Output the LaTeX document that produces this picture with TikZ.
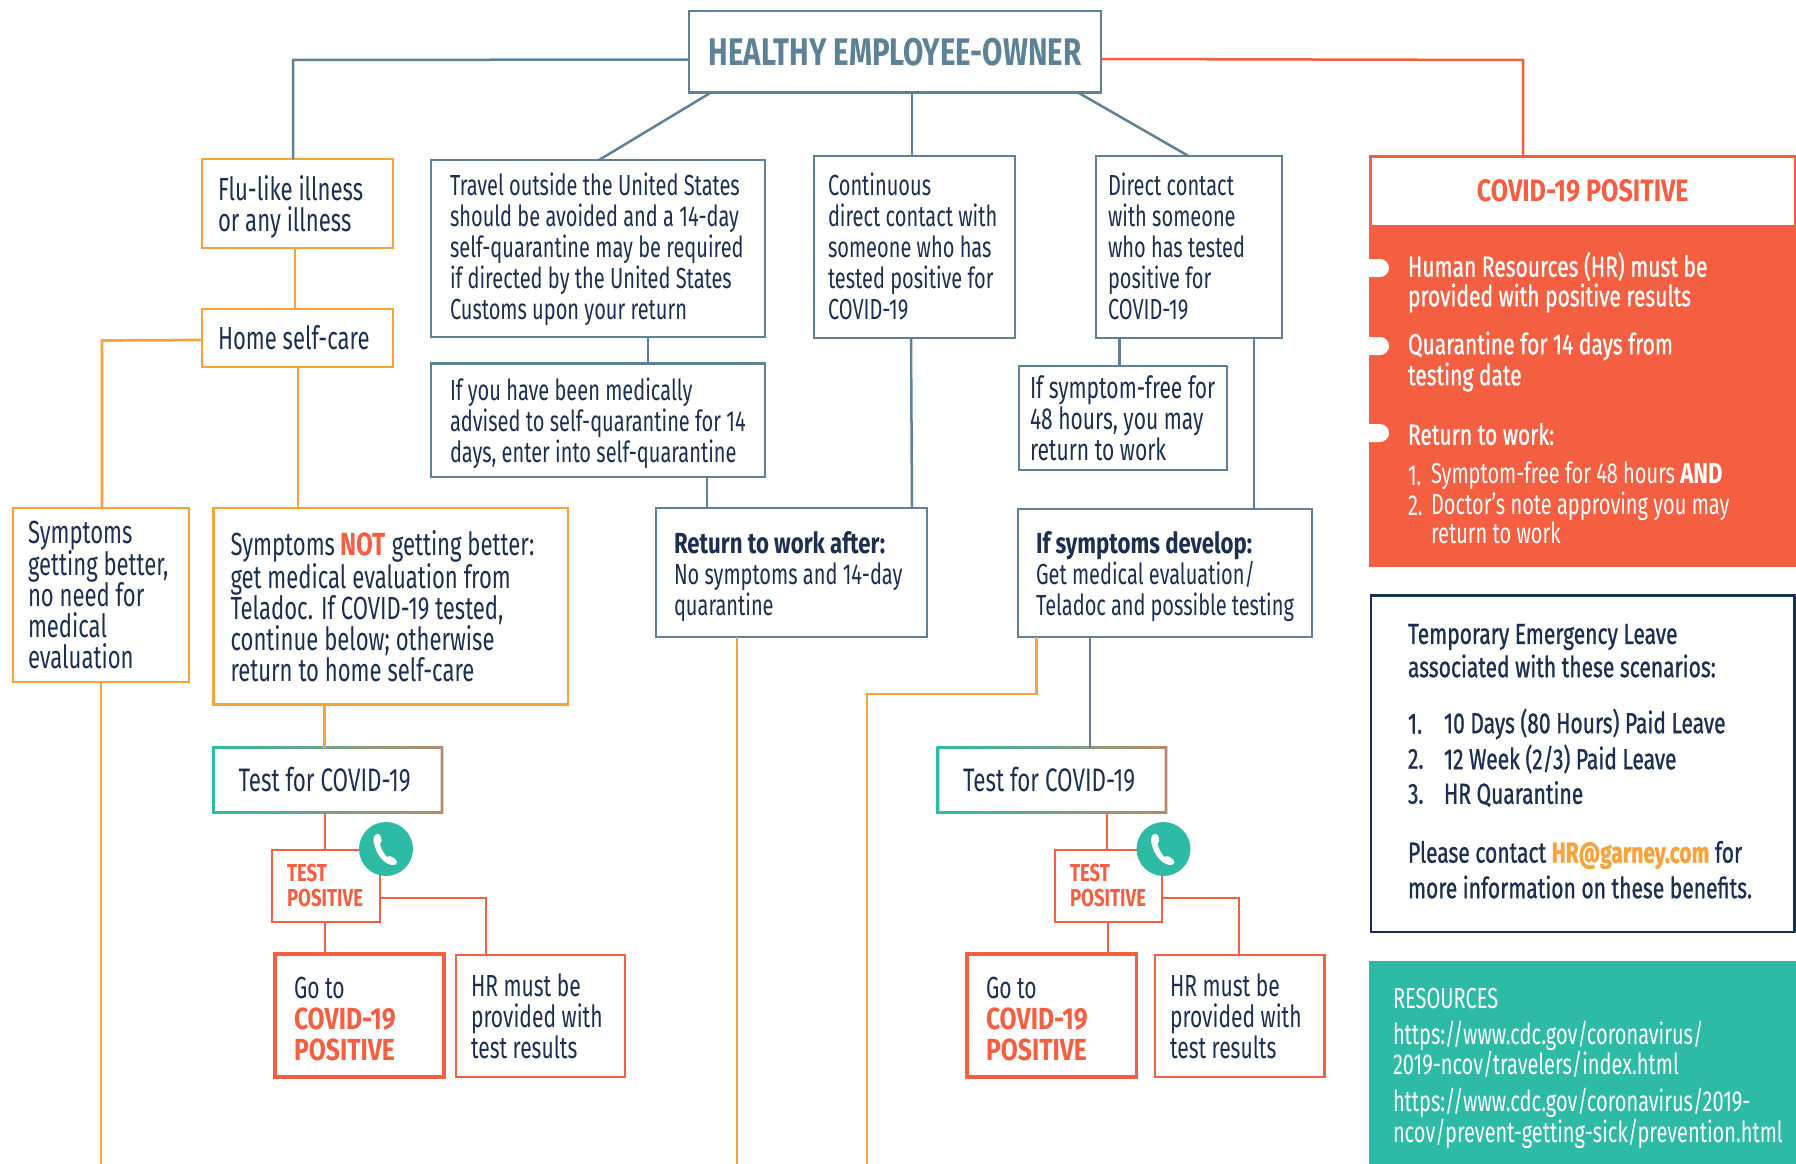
\documentclass[tikz,border=0pt]{standalone}
\usepackage{fontspec}
\setmainfont[UprightFeatures={FakeStretch=0.69},BoldFeatures={FakeStretch=0.765}]{Fira Sans}
\newfontfamily\medf[FakeStretch=0.725,FakeBold=0.9]{Fira Sans}
\newfontfamily\capf[UprightFeatures={FakeStretch=0.81},BoldFeatures={FakeStretch=0.81}]{Fira Sans}
\newfontfamily\capg[UprightFeatures={FakeStretch=0.76},BoldFeatures={FakeStretch=0.76}]{Fira Sans}
\definecolor{navy}{HTML}{1B2F50}
\definecolor{slate}{HTML}{5D8296}
\definecolor{orng}{HTML}{F9A23A}
\definecolor{redd}{HTML}{F45E41}
\definecolor{teall}{HTML}{2EBBA6}
\definecolor{brwn}{HTML}{B58A68}
\newcommand\hl[1]{{\capg\bfseries\color{redd}#1}}
\newcommand\hlw[1]{{\capf\bfseries\color{redd}#1}}
\newcommand\dn[1]{\rule{0pt}{\dimexpr 22pt+#1pt\relax}}
\newcommand\bx[8]{%
  \pgfmathsetmacro\bw{#5-#3}\pgfmathsetmacro\bh{#6-#4}%
  \pgfmathsetmacro\bcx{(#5+#3)/2}\pgfmathsetmacro\bcy{(#6+#4)/2}%
  \pgfmathsetmacro\btw{\bw-2*#7}%
  \node[#1,minimum width=\bw pt,minimum height=\bh pt,text width=\btw pt,inner xsep=#7 pt,inner ysep=0pt] (#2) at (\bcx,\bcy) {#8};}
\tikzset{
  x=1pt,y=-1pt,
  every node/.style={outer sep=0pt,align=flush left,text=navy,font=\fontsize{29}{31}\selectfont},
  bigf/.style={font=\fontsize{32}{31}\selectfont},
  midf/.style={font=\fontsize{30.5}{31}\selectfont},
  tpf/.style={font=\fontsize{24.5}{25}\selectfont},
  sbox/.style={draw=slate,line width=2.7pt},
  obox/.style={draw=orng,line width=2.9pt,bigf},
  rbox/.style={draw=redd,line width=2.7pt,midf},
  rthick/.style={draw=redd,line width=3.4pt,midf},
  tbox/.style={font=\fontsize{32.5}{31}\selectfont},
  sl/.style={draw=slate,line width=2.5pt},
  ol/.style={draw=orng,line width=2.7pt},
  rl/.style={draw=redd,line width=2.5pt},
  txt/.style={anchor=west,inner sep=0pt},
  wtxt/.style={txt,text=white,font=\fontsize{29}{31}\selectfont\medf},
  ntxt/.style={txt,text=navy,font=\fontsize{29}{31}\selectfont\medf},
  phone/.style={fill=teall,circle,minimum size=54pt,inner sep=0pt},
  handset/.pic={\fill[white] (-11,-14) .. controls (-8,-16) and (-6,-15) .. (-5,-12) .. controls (-4,-9) and (-4,-7) .. (-6,-5) .. controls (-5,0) and (-2,5) .. (1,8) .. controls (4,6) and (7,8) .. (10,11) .. controls (12,14) and (10,16) .. (7,16) .. controls (0,16) and (-8,8) .. (-11,-2) .. controls (-13,-7) and (-13,-12) .. (-11,-14) -- cycle;},
}
\newcommand\shbox[1]{\shade[left color=teall,right color=brwn,even odd rule] ([shift={(-1.4pt,-1.4pt)}]#1.south west) rectangle ([shift={(1.4pt,1.4pt)}]#1.north east) ([shift={(1.4pt,1.4pt)}]#1.south west) rectangle ([shift={(-1.4pt,-1.4pt)}]#1.north east);}
\begin{document}
\begin{tikzpicture}
\useasboundingbox (0,0) rectangle (1796,1164);
% top
\bx{sbox,align=flush center,font=\fontsize{38.5}{42}\selectfont\bfseries}{top}{689}{11}{1101}{92.5}{0}{\textcolor{slate}{HEALTHY EMPLOYEE-OWNER}}
% orange column
\bx{obox}{flu}{202}{159}{393}{248}{16}{\dn{9}Flu-like illness\\or any illness}
\bx{obox}{home}{202}{309}{393}{367}{16}{Home self-care}
\bx{obox}{better}{13}{508}{189}{682}{15}{Symptoms\\getting better,\\no need for\\medical\\evaluation}
\bx{obox}{notb}{213.5}{508}{568}{704.5}{17}{Symptoms \hl{NOT} getting better:\\get medical evaluation from\\Teladoc. If COVID-19 tested,\\continue below; otherwise\\return to home self-care}
% slate boxes
\bx{sbox}{travel}{431}{160}{765}{337}{19}{\dn{2}Travel outside the United States\\should be avoided and a 14-day\\self-quarantine may be required\\if directed by the United States\\Customs upon your return}
\bx{sbox}{medic}{431}{363.5}{765}{477}{19}{\dn{6}If you have been medically\\advised to self-quarantine for 14\\days, enter into self-quarantine}
\bx{sbox}{retn}{656}{508}{927}{637}{18}{\dn{9}\textbf{Return to work after:}\\No symptoms and 14-day\\quarantine}
\bx{sbox}{cont}{814}{156}{1015}{338}{14}{Continuous\\direct contact with\\someone who has\\tested positive for\\COVID-19}
\bx{sbox}{direct}{1096}{156}{1282}{338}{12}{Direct contact\\with someone\\who has tested\\positive for\\COVID-19}
\bx{sbox,midf}{free}{1019}{366}{1227}{470}{11}{\dn{2}If symptom-free for\\48 hours, you may\\return to work}
\bx{sbox}{devel}{1018}{509}{1312}{637}{18}{\dn{8}\textbf{If symptoms develop:}\\Get medical evaluation/\\Teladoc and possible testing}
% test boxes
\bx{tbox}{testa}{213.5}{747.5}{442}{812.5}{25}{Test for COVID-19}
\bx{tbox}{testb}{938}{747.5}{1166}{812.5}{25}{Test for COVID-19}
\shbox{testa}
\shbox{testb}
\bx{rbox,tpf}{posa}{272}{850}{380}{922}{15}{\hl{TEST}\\\hl{POSITIVE}}
\bx{rbox,tpf}{posb}{1055}{850}{1162}{922}{15}{\hl{TEST}\\\hl{POSITIVE}}
\bx{rthick}{goa}{275}{954}{444}{1077}{19}{\dn{6}Go to\\\hlw{COVID-19}\\\hlw{POSITIVE}}
\bx{rbox}{hra}{456}{955}{625}{1077}{15}{HR must be\\provided with\\test results}
\bx{rthick}{gob}{967}{954}{1136.5}{1077}{19}{\dn{6}Go to\\\hlw{COVID-19}\\\hlw{POSITIVE}}
\bx{rbox}{hrb}{1155}{955}{1324.5}{1077}{15}{HR must be\\provided with\\test results}
% connectors
\draw[sl] (top.west |- 0,59.5) -- (293,60) -- (flu.north -| 293,0);
\draw[sl] (top.south -| 711,0) -- (travel.north -| 599,0);
\draw[sl] (top.south -| 912,0) -- (cont.north -| 912,0);
\draw[sl] (top.south -| 1078,0) -- (direct.north -| 1188.5,0);
\draw[rl] (top.east |- 0,59) -- (1523,60) -- (1523,156);
\draw[ol] (flu.south -| 295,0) -- (home.north -| 295,0);
\draw[ol] (home.west |- 0,340) -- (102,340.5) -- (better.north -| 102,0);
\draw[ol] (home.south -| 298,0) -- (notb.north -| 298,0);
\draw[ol] (better.south -| 101,0) -- (101,1164);
\draw[ol] (notb.south -| 324.5,0) -- (testa.north -| 324.5,0);
\draw[sl] (travel.south -| 648,0) -- (medic.north -| 648,0);
\draw[sl] (medic.south -| 707,0) -- (retn.north -| 707,0);
\draw[sl] (cont.south -| 911,0) -- (retn.north -| 912,0);
\draw[sl] (direct.south -| 1119.5,0) -- (free.north -| 1119.5,0);
\draw[sl] (direct.south -| 1254,0) -- (devel.north -| 1254,0);
\draw[sl] (devel.south -| 1090,0) -- (testb.north -| 1090,0);
\draw[ol] (retn.south -| 737,0) -- (737,1164);
\draw[ol] (devel.south -| 1036.5,0) -- (1036.5,694) -- (867,694) -- (867,1164);
\draw[rl] (testa.south -| 325,0) -- (posa.north -| 325,0);
\draw[rl] (posa.east |- 0,898) -- (486,898) -- (hra.north -| 486,0);
\draw[rl] (posa.south -| 325,0) -- (goa.north -| 325,0);
\draw[rl] (testb.south -| 1107,0) -- (posb.north -| 1107,0);
\draw[rl] (posb.east |- 0,898) -- (1239,898) -- (hrb.north -| 1239,0);
\draw[rl] (posb.south -| 1108,0) -- (gob.north -| 1108,0);
% phones
\node[phone] (pha) at (386,849) {};
\node[phone] (phb) at (1163.5,849) {};
\pic at (pha) {handset};
\pic at (phb) {handset};
% COVID panel
\bx{rbox,align=flush center,font=\fontsize{31}{33}\selectfont}{covid}{1370.5}{156.5}{1795}{226}{0}{\hlw{COVID-19 POSITIVE}}
\fill[redd] (1369,225) rectangle (1796,566.5);
\fill[white,rounded corners=9] (1360,259) -- (1389,259) -- (1389,277) -- (1360,277) -- cycle;
\fill[white,rounded corners=9] (1360,337) -- (1389,337) -- (1389,355) -- (1360,355) -- cycle;
\fill[white,rounded corners=9] (1360,424) -- (1389,424) -- (1389,442) -- (1360,442) -- cycle;
\node[wtxt] (c1) at (1408,266.5) {Human Resources (HR) must be};
\node[wtxt] (c2) at (1408,298) {provided with positive results};
\node[wtxt] (c3) at (1408,346) {Quarantine for 14 days from};
\node[wtxt] (c4) at (1408,377) {testing date};
\node[wtxt] (c5) at (1408,434) {Return to work:};
\node[wtxt,font=\fontsize{29}{31}\selectfont] (c6) at (1408,476) {1.};
\node[wtxt,font=\fontsize{29}{31}\selectfont] (c7) at (1431,476) {Symptom-free for 48 hours \textbf{AND}};
\node[wtxt,font=\fontsize{29}{31}\selectfont] (c8) at (1408,506) {2.};
\node[wtxt,font=\fontsize{29}{31}\selectfont] (c9) at (1431,506) {Doctor’s note approving you may};
\node[wtxt,font=\fontsize{29}{31}\selectfont] (c10) at (1431,533) {return to work};
% leave panel
\draw[navy,line width=2.8pt] (1797,595.5) -- (1371,595.5) -- (1371,932) -- (1794.7,932) -- (1794.7,595.5);
\node[ntxt] (l1) at (1408,637) {Temporary Emergency Leave};
\node[ntxt] (l2) at (1408,666) {associated with these scenarios:};
\node[ntxt] (l3) at (1408,724) {1.};
\node[ntxt] (l4) at (1444,724) {10 Days (80 Hours) Paid Leave};
\node[ntxt] (l5) at (1408,759) {2.};
\node[ntxt] (l6) at (1444,759) {12 Week (2/3) Paid Leave};
\node[ntxt] (l7) at (1408,794) {3.};
\node[ntxt] (l8) at (1444,794) {HR Quarantine};
\node[ntxt] (l9) at (1408,855) {Please contact \textcolor{orng}{\textbf{HR@garney.com}} for};
\node[ntxt] (l10) at (1408,887) {more information on these benefits.};
% resources
\fill[teall] (1369,961) rectangle (1796,1164);
\node[txt,text=white] (r1) at (1393,998) {RESOURCES};
\node[txt,text=white] (r2) at (1393,1036) {https://www.cdc.gov/coronavirus/};
\node[txt,text=white] (r3) at (1393,1064) {2019-ncov/travelers/index.html};
\node[txt,text=white] (r4) at (1393,1103) {https://www.cdc.gov/coronavirus/2019-};
\node[txt,text=white] (r5) at (1393,1134) {ncov/prevent-getting-sick/prevention.html};
\end{tikzpicture}
\end{document}
